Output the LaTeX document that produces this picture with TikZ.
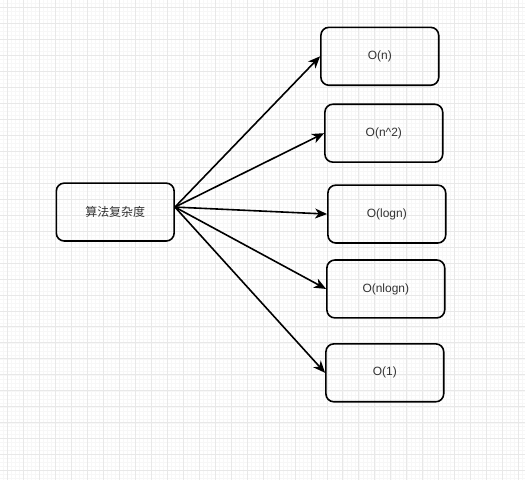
\documentclass[tikz,border=0pt]{standalone}
\usepackage{fontspec}
\setmainfont{Liberation Sans}
\newfontfamily\cjk{Noto Sans CJK SC}
\usetikzlibrary{arrows.meta}

\begin{document}
\begin{tikzpicture}[x=1pt,y=-1pt,
   box/.style={draw,line width=1.6pt,rounded corners=8pt,minimum width=118pt,
     minimum height=58pt,inner sep=0pt,text=black!80,font=\fontsize{12}{14}\selectfont},
   link/.style={-{Stealth[length=12pt,width=10pt,inset=3.5pt]},line width=1.6pt}]
% background grid
\fill[white] (0,0) rectangle (525,480);
\foreach \x in {3,7,...,523} \draw[black!3,line width=0.5pt] (\x,0) -- (\x,480);
\foreach \y in {3,7,...,479} \draw[black!3,line width=0.5pt] (0,\y) -- (525,\y);
\foreach \x in {7,23,...,519} \draw[black!9,line width=0.8pt] (\x,0) -- (\x,480);
\foreach \y in {7,23,...,471} \draw[black!9,line width=0.8pt] (0,\y) -- (525,\y);
\useasboundingbox (0,0) rectangle (525,480);

\node[box] (comp) at (115,212) {\cjk 算法复杂度};
\node[box] (on) at (380,56) {O(n)};
\node[box] (on2) at (384,133) {O(n\^{}2)};
\node[box] (ologn) at (387,214) {O(logn)};
\node[box] (onlogn) at (386,289) {O(nlogn)};
\node[box] (o1) at (385,373) {O(1)};

\coordinate (src) at ([yshift=5pt]comp.east);
\foreach \t in {on,on2,ologn,onlogn,o1}
  \draw[link] (src) -- (\t.west);
\end{tikzpicture}
\end{document}
